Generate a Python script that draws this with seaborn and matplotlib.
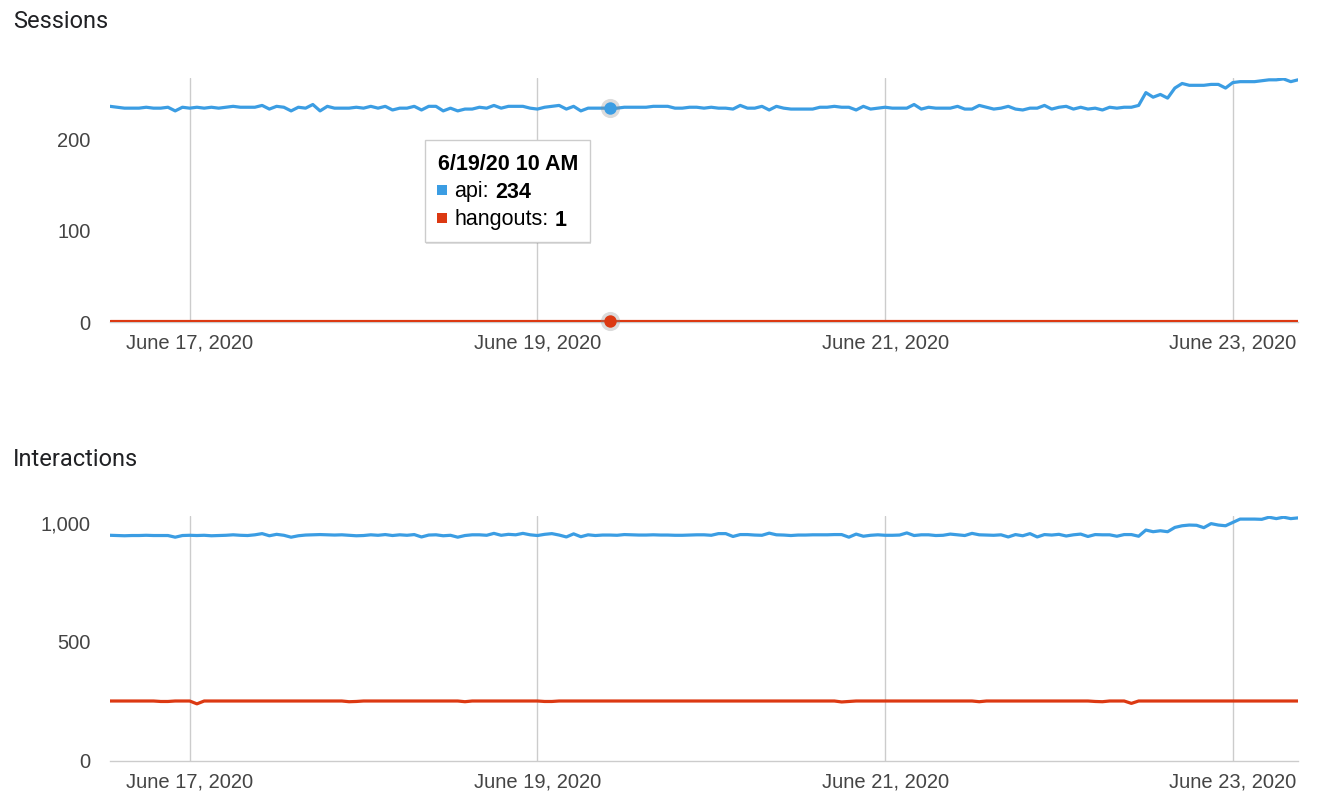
import matplotlib
matplotlib.use('Agg')
import matplotlib.pyplot as plt
import matplotlib.dates as mdates
from matplotlib.patches import Rectangle
import matplotlib.ticker as mticker
import pandas as pd
import seaborn as sns

# hourly samples, 2020-06-16 13:00 .. 2020-06-23 09:00
start_time = "2020-06-16 13:00"
n_hours = 165

sessions_api = [
    236, 235, 234, 234, 234, 235, 234, 234, 235, 231, 235,
    234, 235, 234, 235, 234, 235, 236, 235, 235, 235, 237, 233, 236, 235, 231, 235, 234, 238, 231, 236, 234, 234, 234, 235,
    234, 236, 234, 236, 232, 234, 234, 236, 232, 236, 236, 231, 234, 231, 233, 233, 235, 234, 237, 234, 236, 236, 236, 234,
    233, 235, 236, 237, 233, 236, 231, 234, 234, 234, 234, 234, 235, 235, 235, 235, 236, 236, 236, 234, 234, 235, 235, 234,
    235, 234, 234, 233, 237, 234, 234, 236, 232, 236, 234, 233, 233, 233, 233, 235, 235, 236, 235, 235, 232, 236, 233, 234,
    235, 234, 234, 234, 238, 233, 235, 234, 234, 234, 236, 233, 233, 237, 235, 233, 234, 236, 233, 232, 234, 234, 237, 233,
    235, 236, 233, 235, 233, 234, 232, 235, 234, 235, 235, 237, 251, 246, 249, 245, 256, 261, 259, 259, 259, 260, 260, 256,
    262, 263, 263, 263, 264, 265, 265, 266, 263, 265,
]
sessions_hangouts = [
    1, 1, 1, 1, 1, 1, 1, 1, 1, 1, 1,
    1, 1, 1, 1, 1, 1, 1, 1, 1, 1, 1, 1, 1, 1, 1, 1, 1, 1, 1, 1, 1, 1, 1, 1,
    1, 1, 1, 1, 1, 1, 1, 1, 1, 1, 1, 1, 1, 1, 1, 1, 1, 1, 1, 1, 1, 1, 1, 1,
    1, 1, 1, 1, 1, 1, 1, 1, 1, 1, 1, 1, 1, 1, 1, 1, 1, 1, 1, 1, 1, 1, 1, 1,
    1, 1, 1, 1, 1, 1, 1, 1, 1, 1, 1, 1, 1, 1, 1, 1, 1, 1, 1, 1, 1, 1, 1, 1,
    1, 1, 1, 1, 1, 1, 1, 1, 1, 1, 1, 1, 1, 1, 1, 1, 1, 1, 1, 1, 1, 1, 1, 1,
    1, 1, 1, 1, 1, 1, 1, 1, 1, 1, 1, 1, 1, 1, 1, 1, 1, 1, 1, 1, 1, 1, 1, 1,
    1, 1, 1, 1, 1, 1, 1, 1, 1, 1,
]
interactions_api = [
    948, 947, 946, 947, 947, 948, 947, 947, 947, 940, 947,
    948, 947, 948, 946, 947, 948, 950, 948, 947, 950, 955, 946, 952, 948, 940, 946, 949, 950, 951, 950, 949, 950, 948, 946,
    947, 950, 948, 951, 947, 950, 948, 951, 941, 949, 950, 946, 948, 940, 947, 950, 950, 948, 956, 948, 952, 950, 956, 950,
    947, 952, 955, 949, 941, 954, 942, 950, 947, 949, 949, 948, 951, 950, 949, 949, 950, 949, 949, 948, 948, 949, 950, 950,
    948, 955, 955, 943, 951, 951, 949, 948, 957, 950, 949, 947, 949, 949, 950, 950, 950, 951, 951, 940, 953, 944, 948, 950,
    948, 948, 949, 958, 947, 950, 950, 947, 948, 953, 950, 947, 956, 950, 949, 948, 950, 941, 951, 946, 955, 941, 951, 949,
    952, 945, 950, 953, 943, 951, 950, 950, 944, 951, 951, 944, 970, 963, 967, 963, 981, 988, 991, 990, 980, 997, 991, 988,
    1002, 1016, 1016, 1016, 1015, 1024, 1018, 1024, 1018, 1021,
]
interactions_hangouts = [
    252, 252, 252, 252, 252, 252, 252, 250, 250, 252, 252,
    252, 240, 252, 252, 252, 252, 252, 252, 252, 252, 252, 252, 252, 252, 252, 252, 252, 252, 252, 252, 252, 252, 249, 250,
    252, 252, 252, 252, 252, 252, 252, 252, 252, 252, 252, 252, 252, 252, 249, 252, 252, 252, 252, 252, 252, 252, 252, 252,
    252, 250, 250, 252, 252, 252, 252, 252, 252, 252, 252, 252, 252, 252, 252, 252, 252, 252, 252, 252, 252, 252, 252, 252,
    252, 252, 252, 252, 252, 252, 252, 252, 252, 252, 252, 252, 252, 252, 252, 252, 252, 252, 248, 250, 252, 252, 252, 252,
    252, 252, 252, 252, 252, 252, 252, 252, 252, 252, 252, 252, 252, 249, 252, 252, 252, 252, 252, 252, 252, 252, 252, 252,
    252, 252, 252, 252, 252, 250, 249, 252, 252, 252, 242, 252, 252, 252, 252, 252, 252, 252, 252, 252, 252, 252, 252, 252,
    252, 252, 252, 252, 252, 252, 252, 252, 252, 252,
]

series_names = ["api", "hangouts"]
series_colors = ["#3b9de3", "#dc3912"]
highlight_idx = 69  # 6/19/20 10 AM

sessions_yticks = [0, 100, 200]
interactions_yticks = [0, 500, 1000]

times = pd.date_range(start_time, periods=n_hours, freq="h")

W, H = 1318, 800

sns.set_style("white")
plt.rcParams['font.family'] = ['Liberation Sans', 'DejaVu Sans']


def long_frame(api, hangouts):
    return pd.concat([
        pd.DataFrame({"time": times, "value": api, "series": "api"}),
        pd.DataFrame({"time": times, "value": hangouts, "series": "hangouts"}),
    ], ignore_index=True)


def style_axis(ax, ymax, yticks):
    ax.set_xlim(times[0], times[-1])
    ax.set_ylim(0, ymax)
    ax.set_yticks(yticks)
    ax.yaxis.set_major_formatter(mticker.FuncFormatter(lambda v, p: f"{int(v):,}"))
    ax.xaxis.set_major_locator(mdates.DayLocator(bymonthday=[17, 19, 21, 23]))
    ax.xaxis.set_minor_locator(mdates.DayLocator(bymonthday=[18, 20, 22]))
    ax.xaxis.set_major_formatter(mdates.DateFormatter("%B %d, %Y"))
    ax.set_axisbelow(True)
    ax.grid(axis='x', which='major', color='#cccccc', linewidth=1)
    ax.grid(axis='y', visible=False)
    ax.tick_params(axis='x', which='major', length=0, pad=8.5, labelsize=14.5, labelcolor='#444444')
    ax.tick_params(axis='x', which='minor', direction='in', length=4.5, width=1, color='#cccccc')
    ax.tick_params(axis='y', length=0, pad=14, labelsize=14.5, labelcolor='#444444')
    for side in ['top', 'right', 'left']:
        ax.spines[side].set_visible(False)
    ax.spines['bottom'].set_color('#cccccc')
    ax.spines['bottom'].set_linewidth(1)
    ax.set_xlabel('')
    ax.set_ylabel('')


fig = plt.figure(figsize=(W / 100, H / 100), dpi=100)
ax1 = fig.add_axes([110 / W, 1 - 322 / H, 1188 / W, 244 / H])
ax2 = fig.add_axes([110 / W, 1 - 761 / H, 1188 / W, 245 / H])

palette = dict(zip(series_names, series_colors))

sns.lineplot(data=long_frame(sessions_api, sessions_hangouts), x="time", y="value",
             hue="series", hue_order=series_names, palette=palette,
             linewidth=2.3, legend=False, ax=ax1, zorder=3)
sns.lineplot(data=long_frame(interactions_api, interactions_hangouts), x="time", y="value",
             hue="series", hue_order=series_names, palette=palette,
             linewidth=2.3, legend=False, ax=ax2, zorder=3)

style_axis(ax1, 267, sessions_yticks)
style_axis(ax2, 1029, interactions_yticks)

# hovered points
t_hl = times[highlight_idx]
for val, col in [(sessions_api[highlight_idx], series_colors[0]),
                 (sessions_hangouts[highlight_idx], series_colors[1])]:
    ax1.scatter([t_hl], [val], s=190, color='#888888', alpha=0.3, linewidths=0, zorder=4, clip_on=False)
    ax1.scatter([t_hl], [val], s=80, color=col, linewidths=0, zorder=5, clip_on=False)

# titles
fig.text(13 / W, 1 - 22 / H, "Sessions", fontsize=17, family=['Roboto', 'DejaVu Sans'],
         color='#202124', va='center', ha='left')
fig.text(13 / W, 1 - 460 / H, "Interactions", fontsize=17, family=['Roboto', 'DejaVu Sans'],
         color='#202124', va='center', ha='left')


# tooltip
def fx(x):
    return x / W


def fy(y):
    return 1 - y / H


fig.add_artist(Rectangle((fx(426), fy(244)), 165 / W, 102 / H, transform=fig.transFigure,
                         facecolor='#000000', alpha=0.12, edgecolor='none', zorder=9))
fig.add_artist(Rectangle((fx(425), fy(242)), 165 / W, 102 / H, transform=fig.transFigure,
                         facecolor='white', edgecolor='#cccccc', linewidth=1, zorder=10))
fig.text(fx(438), fy(165), "6/19/20 10 AM", fontsize=15.5, fontweight='bold', color='#000000',
         va='center', ha='left', zorder=11)
for row_y, name, val, col, val_x in [(192, "api:", sessions_api[highlight_idx], series_colors[0], 495),
                                     (220, "hangouts:", sessions_hangouts[highlight_idx], series_colors[1], 555)]:
    fig.add_artist(Rectangle((fx(437), fy(row_y + 3)), 10 / W, 10 / H, transform=fig.transFigure,
                             facecolor=col, edgecolor='none', zorder=11))
    fig.text(fx(454), fy(row_y), name, fontsize=15.5, color='#000000', va='center', ha='left', zorder=11)
    fig.text(fx(val_x), fy(row_y), f"{val}", fontsize=15.5, fontweight='bold', color='#000000',
             va='center', ha='left', zorder=11)

fig.savefig("out.png", dpi=100)
